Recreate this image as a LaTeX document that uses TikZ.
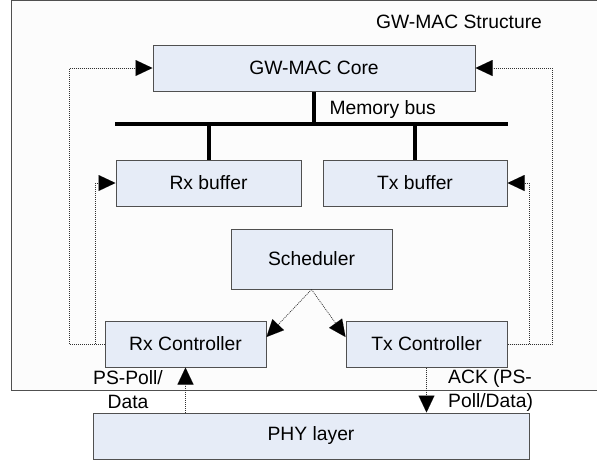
\documentclass[tikz,border=0pt]{standalone}
\usepackage{fontspec}
\setmainfont{Liberation Sans}
\usetikzlibrary{arrows.meta}
\definecolor{boxfill}{HTML}{E6ECF7}
\definecolor{boxline}{HTML}{505050}
\definecolor{dotline}{HTML}{303030}
\begin{document}
\begin{tikzpicture}[x=1pt,y=-1pt,
  font=\fontsize{19.3}{24}\selectfont,
  blk/.style={draw=boxline,line width=1pt,fill=boxfill,inner sep=0pt,anchor=center},
  tipA/.tip={Triangle[length=17pt,width=16pt,fill=black,line width=0.01pt]},
  dotarrow/.style={draw=dotline,line width=0.7pt,dash pattern=on 1pt off 1pt,-tipA},
  bus/.style={line width=4pt,black}]
\useasboundingbox (0,0) rectangle (597,461);
\fill[white] (0,0) rectangle (597,461);
\draw[fill={rgb,255:red,252;green,252;blue,252},draw=boxline,line width=1pt] (11,0.5) rectangle (600,390);
\node (title) at (459,22) {GW-MAC Structure};
\node[blk,minimum width=322pt,minimum height=46pt] (core) at (314,68) {GW-MAC Core};
\node[blk,minimum width=185pt,minimum height=46pt] (rxb) at (208.5,183) {Rx buffer};
\node[blk,minimum width=184pt,minimum height=46pt] (txb) at (415,183) {Tx buffer};
\node[blk,minimum width=161pt,minimum height=60pt] (sch) at (311.5,259) {Scheduler};
\node[blk,minimum width=161pt,minimum height=46pt] (rxc) at (185.5,344) {Rx Controller};
\node[blk,minimum width=161pt,minimum height=46pt] (txc) at (426.5,344) {Tx Controller};
\node[blk,minimum width=436pt,minimum height=46pt] (phy) at (311,436) {PHY layer};
\coordinate (busL) at (115,124);
\coordinate (busR) at (508,124);
\draw[bus] (busL) -- (busR);
\draw[bus] (core.south) -- (core.south |- busL);
\draw[bus] (rxb.north) -- (rxb.north |- busL);
\draw[bus] (txb.north) -- (txb.north |- busL);
\node[anchor=west] (mbus) at (326,110) {Memory bus};
% scheduler to controllers
\draw[dotarrow] (sch.south) -- ([yshift=7pt]rxc.east);
\draw[dotarrow] (sch.south) -- ([yshift=7pt]txc.west);
% left feedback
\coordinate (l1) at (69,344);
\coordinate (l2) at (95,344);
\draw[dotarrow] (rxc.west) -- (l1) |- (core.west);
\draw[dotarrow] (rxc.west) -- (l2) |- (rxb.west);
% right feedback
\coordinate (r1) at (552,344);
\coordinate (r2) at (529,344);
\draw[dotarrow] (txc.east) -- (r1) |- (core.east);
\draw[dotarrow] (txc.east) -- (r2) |- (txb.east);
% PHY
\draw[dotarrow] (phy.north -| rxc.south) -- (rxc.south);
\draw[dotarrow] (txc.south) -- (txc.south |- phy.north);
\node[align=center,inner sep=0pt] (lblrx) at (128,390) {PS-Poll/\\Data};
\node[align=left,inner sep=0pt,anchor=west] (lbltx) at (448,390) {ACK (PS-\\Poll/Data)};
\end{tikzpicture}
\end{document}
